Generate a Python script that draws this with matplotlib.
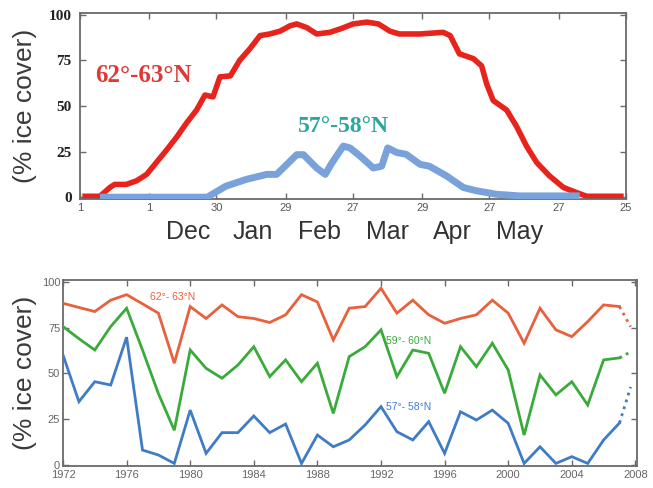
import matplotlib
matplotlib.use("Agg")
import matplotlib.pyplot as plt
import matplotlib.transforms as mtransforms

# ---- Seasonal cycle (days counted from 1 Nov) ----
north_days = [1, 8.6, 13, 15, 20, 24.5, 28.8, 33, 37.5, 41.8, 46, 50.4, 54, 57.5,
              60.5, 65, 69, 73.5, 77.8, 82, 86.4, 90.8, 93.7, 98, 102.3, 108, 113,
              118, 124, 129, 134, 138, 147, 157, 160, 164, 170, 173.6, 175.8, 178.6,
              184.4, 188.7, 193, 197.4, 203, 209, 214.7, 219, 235]
north_cover = [0.5, 0.5, 5.4, 7, 7, 9, 12.5, 19, 26, 33, 40.6, 47.8, 56, 55,
               66, 66.5, 75, 81.5, 88.6, 89.5, 91, 94, 95, 93, 89.5, 90.4, 92.5,
               95, 96, 95, 91, 89.5, 89.5, 90.4, 88.6, 78.6, 76, 72, 62, 53,
               47.8, 38.8, 28, 19, 11.6, 5.3, 2.5, 0.5, 0.5]

south_days = [8.6, 55, 63, 72, 80.7, 85, 93.7, 96.6, 102.3, 106, 109, 113.8, 116.7,
              121, 126.8, 130.4, 133, 136.9, 141, 147, 151, 158.5, 165.7, 171.4,
              180, 190, 216]
south_cover = [0, 0, 6, 9.8, 12.5, 12.5, 23.3, 23.3, 16, 12.5, 19, 28, 27,
               22.6, 16, 17, 27, 24.5, 23.5, 18, 17, 11.6, 5.3, 3.5,
               1.6, 0.7, 0.7]

season_ticks = [0, 30, 59, 89, 118, 148, 177, 207, 236]
season_ticklabels = ["1", "1", "30", "29", "27", "29", "27", "27", "25"]
month_names = ["Dec", "Jan", "Feb", "Mar", "Apr", "May"]
month_pos = [46.7, 74.8, 103.7, 133, 161, 190]

# ---- Annual maximum ice cover, 1972-2007 ----
years = list(range(1972, 2008))
band_62_63 = [88.3, 86, 83.8, 90, 93, 88, 82.9, 55.6, 86.5, 80, 87.4, 81, 80, 77.8,
              82, 93, 89, 68.3, 85.6, 86.5, 96.5, 82.9, 90, 82, 77.4, 80, 82, 90,
              82.9, 66.5, 85.6, 73.8, 70.1, 78.3, 87.4, 86.5]
band_59_60 = [75.6, 69, 62.8, 75.6, 85.6, 62.8, 39, 19, 62.8, 52.8, 47.4, 54.6,
              64.6, 48.3, 57.4, 45.5, 55.6, 28.2, 59.2, 64.6, 73.8, 48.3, 62.8, 61,
              39.2, 64.6, 53.7, 66.5, 51.9, 16.4, 49.2, 38.3, 45.5, 32.8, 57.4, 58.5]
band_57_58 = [60.1, 34.6, 45.5, 43.7, 69.8, 8.2, 5.5, 0.9, 30, 6.4, 17.7, 17.7,
              26.8, 17.7, 22.4, 0.9, 16.4, 10, 13.7, 21.9, 31.9, 18.2, 13.7, 23.7,
              6.4, 29.1, 24.6, 30, 22.8, 0.9, 10, 0.9, 4.6, 0.9, 13.7, 23]
proj_year = 2007.7
proj_62_63 = 75.5
proj_59_60 = 61.8
proj_57_58 = 42.6

year_ticks = list(range(1972, 2009, 4))
pct_ticks = [0, 25, 50, 75, 100]

fig = plt.figure(figsize=(6.53, 4.88), dpi=100)
fig.patch.set_facecolor("white")

spine_col = "#6a6a6a"

def frame(ax):
    for s in ax.spines.values():
        s.set_color(spine_col)
        s.set_linewidth(1.3)
    ax.tick_params(direction="in", top=True, right=True, length=4,
                   width=1.0, color=spine_col, labelright=False, labeltop=False)

# ---- Top panel ----
ax1 = fig.add_axes([80 / 653, 1 - 199 / 488, 546 / 653, 186 / 488])
frame(ax1)
ax1.plot(north_days, north_cover, color="#e8231c", lw=4.0,
         solid_joinstyle="round", solid_capstyle="butt", zorder=2)
ax1.plot(south_days, south_cover, color="#7aa2da", lw=5.0,
         solid_joinstyle="round", solid_capstyle="butt", zorder=3)
ax1.set_xlim(0, 236)
ax1.set_ylim(-1, 101)
ax1.set_xticks(season_ticks)
ax1.set_xticklabels(season_ticklabels, fontsize=8, color="#555555",
                    family="Liberation Sans")
ax1.set_yticks(pct_ticks)
ax1.set_yticklabels([str(v) for v in pct_ticks], fontsize=11, fontweight="bold",
                    family="Liberation Serif", color="#222222")
ax1.tick_params(axis="x", pad=3)
ax1.tick_params(axis="y", pad=6)
ax1.set_ylabel("(% ice cover)", fontsize=19, family="Liberation Sans",
               color="#3a3a3a")
ax1.yaxis.set_label_coords(-43 / 546, 0.5)

month_tr = mtransforms.blended_transform_factory(ax1.transData, fig.transFigure)
for name, pos in zip(month_names, month_pos):
    ax1.text(pos, 1 - 232 / 488, name, transform=month_tr, ha="center",
             va="center", fontsize=18, family="Liberation Sans", color="#333333",
             clip_on=False)

ax1.text(6.5, 67, "62°-63°N", color="#dd3a36", fontsize=18, fontweight="bold",
         family="Liberation Serif", ha="left", va="center")
ax1.text(94, 39, "57°-58°N", color="#2ba59f", fontsize=17, fontweight="bold",
         family="Liberation Serif", ha="left", va="center")

# ---- Bottom panel ----
ax2 = fig.add_axes([63 / 653, 1 - 466 / 488, 574 / 653, 186 / 488])
frame(ax2)
c_red, c_green, c_blue = "#e8603c", "#3aab3a", "#3f7cc6"
for vals, proj, col in [(band_62_63, proj_62_63, c_red),
                        (band_59_60, proj_59_60, c_green),
                        (band_57_58, proj_57_58, c_blue)]:
    ax2.plot(years, vals, color=col, lw=2.0, solid_joinstyle="miter", zorder=3)
    ax2.plot([years[-1], proj_year], [vals[-1], proj], color=col, lw=2.0,
             linestyle=(0, (1, 1.6)), zorder=3)
ax2.set_xlim(1972, 2008.1)
ax2.set_ylim(-0.5, 101)
ax2.set_xticks(year_ticks)
ax2.set_xticklabels([str(y) for y in year_ticks], fontsize=8, color="#666666",
                    family="Liberation Sans")
ax2.set_yticks(pct_ticks)
ax2.set_yticklabels([str(v) for v in pct_ticks], fontsize=8, color="#666666",
                    family="Liberation Sans")
ax2.tick_params(axis="x", pad=3)
ax2.tick_params(axis="y", pad=2)
ax2.set_ylabel("(% ice cover)", fontsize=19, family="Liberation Sans",
               color="#3a3a3a")
ax2.yaxis.set_label_coords(-26 / 574, 0.5)

ax2.text(1977.5, 91.5, "62°- 63°N", color=c_red, fontsize=7.5,
         family="Liberation Sans", ha="left", va="center")
ax2.text(1992.3, 67.5, "59°- 60°N", color=c_green, fontsize=7.5,
         family="Liberation Sans", ha="left", va="center")
ax2.text(1992.3, 31.5, "57°- 58°N", color=c_blue, fontsize=7.5,
         family="Liberation Sans", ha="left", va="center")

fig.savefig("out.png", dpi=100, facecolor="white")
